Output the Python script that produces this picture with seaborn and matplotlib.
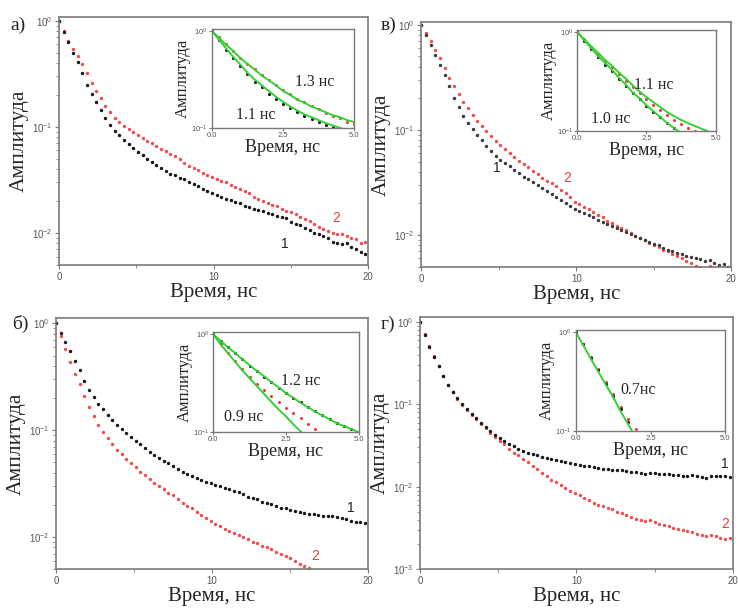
import matplotlib
matplotlib.use("Agg")
import matplotlib.pyplot as plt
import seaborn as sns
from matplotlib.ticker import NullFormatter

sns.set_style("ticks")
plt.rcParams['font.family'] = ['Liberation Serif', 'DejaVu Serif']
plt.rcParams['mathtext.default'] = 'regular'

# sampling times of the decay curves, ns
time_ns = [0.0, 0.3, 0.6, 0.9, 1.2, 1.5, 1.8, 2.1, 2.4, 2.7, 3.0, 3.3, 3.6, 3.9,
           4.2, 4.5, 4.8, 5.1, 5.4, 5.7, 6.0, 6.3, 6.6, 6.9, 7.2, 7.5, 7.8, 8.1,
           8.4, 8.7, 9.0, 9.3, 9.6, 9.9, 10.2, 10.5, 10.8, 11.1, 11.4, 11.7, 12.0,
           12.3, 12.6, 12.9, 13.2, 13.5, 13.8, 14.1, 14.4, 14.7, 15.0, 15.3, 15.6,
           15.9, 16.2, 16.5, 16.8, 17.1, 17.4, 17.7, 18.0, 18.3, 18.6, 18.9, 19.2,
           19.5, 19.8]

# panel а)
a_curve1 = [1.00, 0.79, 0.63, 0.50, 0.41, 0.32, 0.25, 0.205, 0.17, 0.143, 0.122, 0.104,
            0.092, 0.083, 0.076, 0.069, 0.063, 0.058, 0.054, 0.050, 0.047, 0.044, 0.041,
            0.038, 0.036, 0.035, 0.033, 0.032, 0.030, 0.029, 0.0275, 0.026, 0.025, 0.024,
            0.023, 0.022, 0.021, 0.0203, 0.0195, 0.019, 0.018, 0.0175, 0.017, 0.0165,
            0.016, 0.0155, 0.015, 0.0145, 0.0142, 0.0138, 0.0128, 0.0122, 0.0118, 0.0112,
            0.0106, 0.0101, 0.0097, 0.0093, 0.0090, 0.0083, 0.0081, 0.0078, 0.0080,
            0.0074, 0.0070, 0.0066, 0.0064]
a_curve2 = [1.00, 0.80, 0.65, 0.54, 0.46, 0.39, 0.32, 0.26, 0.22, 0.185, 0.158, 0.138,
            0.122, 0.110, 0.102, 0.096, 0.090, 0.084, 0.079, 0.074, 0.070, 0.066, 0.062,
            0.059, 0.056, 0.053, 0.050, 0.046, 0.043, 0.041, 0.039, 0.037, 0.035, 0.034,
            0.0325, 0.031, 0.030, 0.0285, 0.027, 0.026, 0.025, 0.024, 0.022, 0.021,
            0.0200, 0.0192, 0.0185, 0.0178, 0.0170, 0.0163, 0.0157, 0.0150, 0.0143,
            0.0136, 0.0130, 0.0122, 0.0114, 0.0110, 0.0104, 0.0100, 0.0098, 0.0097,
            0.0094, 0.0090, 0.0087, 0.0080, 0.0082]

# panel в)
v_curve1 = [1.00, 0.80, 0.64, 0.51, 0.41, 0.33, 0.26, 0.20, 0.165, 0.137, 0.116, 0.101,
            0.090, 0.080, 0.071, 0.063, 0.057, 0.052, 0.048, 0.045, 0.042, 0.039, 0.036,
            0.034, 0.032, 0.030, 0.028, 0.026, 0.0245, 0.023, 0.0215, 0.0202, 0.019,
            0.0178, 0.0170, 0.0163, 0.0155, 0.0148, 0.0140, 0.0133, 0.0127, 0.0122,
            0.0117, 0.0112, 0.0107, 0.0103, 0.0098, 0.0094, 0.0090, 0.0087, 0.0083,
            0.0080, 0.0076, 0.0072, 0.0070, 0.0068, 0.0066, 0.0064, 0.0062, 0.0061,
            0.0059, 0.0057, 0.0058, 0.0054, 0.0052, 0.0053, 0.0050]
v_curve2 = [1.00, 0.84, 0.70, 0.58, 0.48, 0.39, 0.31, 0.26, 0.22, 0.185, 0.160, 0.140,
            0.122, 0.108, 0.097, 0.088, 0.079, 0.072, 0.066, 0.060, 0.055, 0.051, 0.047,
            0.044, 0.041, 0.038, 0.035, 0.033, 0.031, 0.029, 0.027, 0.025, 0.023, 0.0205,
            0.0196, 0.0186, 0.0177, 0.0166, 0.0157, 0.0149, 0.0137, 0.0130, 0.0123,
            0.0117, 0.0111, 0.0105, 0.0098, 0.0093, 0.0089, 0.0085, 0.0080, 0.0077,
            0.0073, 0.0070, 0.0066, 0.0063, 0.0060, 0.0057, 0.0054, 0.0051, 0.0050,
            0.0047, 0.0051, 0.0046, 0.0044, 0.0042, 0.0040]

# panel б)
b_curve1 = [1.00, 0.81, 0.67, 0.55, 0.45, 0.37, 0.29, 0.24, 0.205, 0.178, 0.157, 0.140,
            0.125, 0.112, 0.102, 0.094, 0.087, 0.080, 0.074, 0.068, 0.063, 0.059, 0.055,
            0.052, 0.049, 0.046, 0.043, 0.041, 0.039, 0.0375, 0.036, 0.0345, 0.033,
            0.032, 0.031, 0.030, 0.029, 0.028, 0.0272, 0.0262, 0.0252, 0.0235, 0.0232,
            0.0228, 0.0214, 0.0208, 0.0203, 0.0196, 0.0188, 0.0185, 0.0180, 0.0175,
            0.0170, 0.0167, 0.0163, 0.0165, 0.0160, 0.0158, 0.0156, 0.0157, 0.0153,
            0.0150, 0.0146, 0.0142, 0.0137, 0.0138, 0.0135]
b_curve2 = [1.00, 0.76, 0.58, 0.44, 0.34, 0.27, 0.21, 0.165, 0.135, 0.113, 0.096, 0.084,
            0.074, 0.066, 0.060, 0.054, 0.049, 0.045, 0.041, 0.038, 0.035, 0.032, 0.030,
            0.028, 0.026, 0.0245, 0.0225, 0.021, 0.0196, 0.0185, 0.0172, 0.0160, 0.0150,
            0.0140, 0.0132, 0.0126, 0.0120, 0.0114, 0.0108, 0.0104, 0.0100, 0.0095,
            0.0090, 0.0087, 0.0083, 0.0080, 0.0077, 0.0072, 0.0070, 0.0066, 0.0064,
            0.0060, 0.0056, 0.0054, 0.0051, 0.0048, 0.0046, 0.0044, 0.0042, 0.0040,
            0.0038, 0.0037, 0.0035, 0.0034, 0.0033, 0.0032, 0.0031]

# panel г)
g_curve1 = [1.00, 0.70, 0.50, 0.38, 0.29, 0.22, 0.17, 0.14, 0.118, 0.100, 0.087, 0.077,
            0.068, 0.060, 0.053, 0.047, 0.042, 0.039, 0.036, 0.033, 0.031, 0.029, 0.0275,
            0.026, 0.0252, 0.0242, 0.0233, 0.0222, 0.0215, 0.0210, 0.0204, 0.0199,
            0.0194, 0.0190, 0.0186, 0.0180, 0.0177, 0.0172, 0.0170, 0.0166, 0.0163,
            0.0160, 0.0158, 0.0161, 0.0155, 0.0152, 0.0150, 0.0148, 0.0142, 0.0145,
            0.0146, 0.0143, 0.0144, 0.0141, 0.0138, 0.0140, 0.0137, 0.0136, 0.0138,
            0.0135, 0.0133, 0.0128, 0.0135, 0.0136, 0.0134, 0.0135, 0.0133]
g_curve2 = [1.00, 0.71, 0.51, 0.39, 0.29, 0.22, 0.17, 0.14, 0.117, 0.099, 0.086, 0.075,
            0.066, 0.058, 0.051, 0.045, 0.040, 0.036, 0.033, 0.029, 0.026, 0.024, 0.022,
            0.020, 0.0180, 0.0164, 0.0148, 0.0135, 0.0122, 0.0113, 0.0105, 0.0097,
            0.0090, 0.0084, 0.0079, 0.0074, 0.0069, 0.0064, 0.0060, 0.0058, 0.0055,
            0.0053, 0.0050, 0.0048, 0.0046, 0.0043, 0.0041, 0.0039, 0.0038, 0.0040,
            0.0037, 0.0035, 0.0034, 0.0033, 0.0032, 0.0031, 0.0030, 0.0029, 0.0028,
            0.0027, 0.0026, 0.0025, 0.0026, 0.0025, 0.0024, 0.0023, 0.0024]

# insets: early part of the decay with fitted curves
inset_time = [0.0, 0.25, 0.5, 0.75, 1.0, 1.25, 1.5, 1.75, 2.0, 2.25, 2.5, 2.75, 3.0,
              3.25, 3.5, 3.75, 4.0, 4.25, 4.5, 4.75, 5.0]

a_fit1 = [1.0, 0.81, 0.66, 0.54, 0.45, 0.37, 0.316, 0.275, 0.24, 0.209, 0.186, 0.166,
          0.151, 0.138, 0.129, 0.120, 0.112, 0.106, 0.100, 0.095, 0.091]
a_fit2 = [1.0, 0.85, 0.72, 0.62, 0.525, 0.457, 0.40, 0.347, 0.309, 0.275, 0.24, 0.219,
          0.195, 0.182, 0.166, 0.155, 0.145, 0.135, 0.129, 0.120, 0.115]
a_dots1 = [1.0, 0.80, 0.64, 0.52, 0.43, 0.36, 0.30, 0.265, 0.225, 0.20, 0.178, 0.160,
           0.146, 0.134, 0.124, 0.116, 0.108, 0.102, 0.097, 0.093, 0.089]
a_dots2 = [1.0, 0.86, 0.73, 0.62, 0.53, 0.46, 0.40, 0.35, 0.31, 0.275, 0.245, 0.222,
           0.200, 0.183, 0.168, 0.155, 0.143, 0.133, 0.125, 0.116, 0.110]

v_fit1 = [1.0, 0.83, 0.69, 0.575, 0.49, 0.417, 0.347, 0.295, 0.245, 0.214, 0.182, 0.158,
          0.138, 0.120, 0.107, 0.095, 0.085, 0.078, 0.071, 0.065, 0.059]
v_fit2 = [1.0, 0.85, 0.72, 0.62, 0.525, 0.457, 0.39, 0.34, 0.29, 0.25, 0.22, 0.195,
          0.174, 0.155, 0.141, 0.129, 0.120, 0.112, 0.105, 0.098, 0.093]
v_dots1 = [1.0, 0.82, 0.67, 0.56, 0.47, 0.40, 0.335, 0.285, 0.24, 0.21, 0.18, 0.157,
           0.138, 0.121, 0.107, 0.095, 0.085, 0.078, 0.071, 0.065, 0.059]
v_dots2 = [1.0, 0.85, 0.71, 0.60, 0.51, 0.44, 0.375, 0.32, 0.28, 0.24, 0.21, 0.185,
           0.163, 0.145, 0.130, 0.118, 0.107, 0.099, 0.093, 0.088, 0.083]

b_fit1 = [1.0, 0.86, 0.74, 0.645, 0.556, 0.484, 0.422, 0.372, 0.324, 0.285, 0.251, 0.224,
          0.200, 0.180, 0.162, 0.148, 0.135, 0.123, 0.115, 0.107, 0.100]
b_fit2 = [1.0, 0.79, 0.645, 0.525, 0.427, 0.355, 0.295, 0.245, 0.204, 0.170, 0.145,
          0.120, 0.102, 0.087, 0.075, 0.065, 0.056, 0.049, 0.043, 0.037, 0.032]
b_dots1 = [1.0, 0.86, 0.74, 0.64, 0.555, 0.48, 0.42, 0.37, 0.325, 0.285, 0.252, 0.225,
           0.201, 0.181, 0.163, 0.149, 0.136, 0.125, 0.116, 0.108, 0.101]
b_dots2 = [1.0, 0.80, 0.65, 0.54, 0.44, 0.37, 0.31, 0.27, 0.235, 0.205, 0.178, 0.156,
           0.138, 0.122, 0.108, 0.098, 0.088, 0.080, 0.073, 0.067, 0.061]

g_fit = [1.0, 0.74, 0.54, 0.40, 0.295, 0.22, 0.158, 0.117, 0.087, 0.065, 0.048, 0.036,
         0.027, 0.020, 0.015, 0.011, 0.008, 0.006, 0.0045, 0.0033, 0.0025]
g_dots1 = [1.0, 0.75, 0.55, 0.41, 0.30, 0.225, 0.165, 0.122, 0.093, 0.070, 0.053, 0.040,
           0.030, 0.023, 0.017, 0.013, 0.010, 0.008, 0.006, 0.005, 0.004]
g_dots2 = [1.0, 0.76, 0.56, 0.42, 0.31, 0.235, 0.175, 0.132, 0.105, 0.092, 0.070, 0.052,
           0.040, 0.030, 0.023, 0.017, 0.013, 0.010, 0.008, 0.006, 0.005]

panel_labels = ['а)', 'в)', 'б)', 'г)']
fit_labels = [('1.1 нс', '1.3 нс'), ('1.0 нс', '1.1 нс'), ('0.9 нс', '1.2 нс'), ('0.7нс', None)]

BLACK = '#151515'
RED = '#ef3b3b'
GREEN = '#35d035'
FRAME = '#7a7a7a'
TICKC = '#555555'
SANS = ['Liberation Sans', 'DejaVu Sans']

fig = plt.figure(figsize=(7.38, 6.12), dpi=100)
fig.patch.set_facecolor('white')

main_rects = [
    [0.080, 0.567, 0.419, 0.405],
    [0.571, 0.564, 0.420, 0.400],
    [0.076, 0.070, 0.423, 0.410],
    [0.569, 0.070, 0.424, 0.412],
]
inset_rects = [
    [0.287, 0.791, 0.193, 0.162],
    [0.782, 0.786, 0.188, 0.165],
    [0.289, 0.294, 0.197, 0.163],
    [0.780, 0.296, 0.203, 0.165],
]
ylims = [(0.005, 1.08), (0.005, 1.06), (0.005, 1.12), (0.001, 1.15)]
curves = [(a_curve1, a_curve2), (v_curve1, v_curve2), (b_curve1, b_curve2), (g_curve1, g_curve2)]
black_cols = [BLACK, '#3a3a3a', BLACK, BLACK]
num_pos = [((14.6, 0.0078), (17.9, 0.0138)),
           ((4.85, 0.043), (9.4, 0.035)),
           ((18.9, 0.0187), (16.6, 0.0066)),
           ((19.5, 0.0187), (19.5, 0.0035))]
label_pos = [(0.014, 0.958), (0.516, 0.958), (0.017, 0.470), (0.516, 0.470)]

inset_dots = [(a_dots1, a_dots2), (v_dots1, v_dots2), (b_dots1, b_dots2), (g_dots1, g_dots2)]
inset_fits = [(a_fit1, a_fit2), (v_fit1, v_fit2), (b_fit2, b_fit1), (g_fit, None)]
fit_text_pos = [((1.55, 0.135), (3.6, 0.30)),
                ((1.2, 0.132), (2.75, 0.29)),
                ((1.05, 0.141), (3.0, 0.33)),
                ((2.1, 0.26), None)]


def style_frame(ax, lw):
    for sp in ax.spines.values():
        sp.set_color(FRAME)
        sp.set_linewidth(lw)


for i in range(4):
    ax = fig.add_axes(main_rects[i])
    c1, c2 = curves[i]
    ax.set_yscale('log')
    sns.scatterplot(x=time_ns, y=c2, ax=ax, color=RED, marker='o', s=6,
                    linewidth=0, alpha=0.9)
    sns.scatterplot(x=time_ns, y=c1, ax=ax, color=black_cols[i], marker='o', s=6,
                    linewidth=0)
    ax.set_xlim(0, 20)
    ax.set_ylim(*ylims[i])
    ax.set_xticks([0, 10, 20])
    ax.set_xticks([5, 15], minor=True)
    yt = [1, 0.1, 0.01] if i < 3 else [1, 0.1, 0.01, 0.001]
    ax.set_yticks(yt)
    ax.set_yticklabels(['$10^{0}$', '$10^{-1}$', '$10^{-2}$', '$10^{-3}$'][:len(yt)])
    ax.yaxis.set_minor_formatter(NullFormatter())
    ax.tick_params(which='both', direction='out', colors=FRAME, labelcolor=TICKC,
                   labelsize=7, pad=2)
    ax.tick_params(which='major', length=3)
    ax.tick_params(which='minor', length=2)
    for lab in ax.get_xticklabels() + ax.get_yticklabels():
        lab.set_family(SANS)
    style_frame(ax, 1.2)
    ax.set_xlabel('Время, нс', fontsize=15, labelpad=1)
    ax.set_ylabel('Амплитуда', fontsize=15.5, labelpad=2)
    (x1, y1), (x2, y2) = num_pos[i]
    ax.text(x1, y1, '1', color='#222222', fontsize=10, family=SANS, ha='center', va='center')
    ax.text(x2, y2, '2', color=RED, fontsize=10, family=SANS, ha='center', va='center')
    fig.text(label_pos[i][0], label_pos[i][1], panel_labels[i], fontsize=14,
             ha='left', va='center')

    # inset
    axi = fig.add_axes(inset_rects[i])
    axi.set_yscale('log')
    d1, d2 = inset_dots[i]
    sns.scatterplot(x=inset_time, y=d2, ax=axi, color=RED, marker='o', s=5, linewidth=0)
    sns.scatterplot(x=inset_time, y=d1, ax=axi, color=BLACK, marker='o', s=5, linewidth=0)
    for fit in inset_fits[i]:
        if fit is not None:
            sns.lineplot(x=inset_time, y=fit, ax=axi, color=GREEN, linewidth=1.4,
                         sort=False, estimator=None)
    axi.set_xlim(0, 5)
    axi.set_ylim(0.1, 1.05)
    axi.set_xticks([0, 2.5, 5])
    axi.set_xticklabels(['0.0', '2.5', '5.0'])
    axi.set_yticks([1, 0.1])
    axi.set_yticklabels(['$10^{0}$', '$10^{-1}$'])
    axi.yaxis.set_minor_formatter(NullFormatter())
    axi.tick_params(which='both', direction='out', colors=FRAME, labelcolor=TICKC,
                    labelsize=5.5, pad=1)
    axi.tick_params(which='major', length=2)
    axi.tick_params(which='minor', length=0)
    for lab in axi.get_xticklabels() + axi.get_yticklabels():
        lab.set_family(SANS)
    style_frame(axi, 1.0)
    axi.set_xlabel('Время, нс', fontsize=13, labelpad=0)
    axi.set_ylabel('Амплитуда', fontsize=12, labelpad=0)
    for txt, pos in zip(fit_labels[i], fit_text_pos[i]):
        if txt is not None:
            axi.text(pos[0], pos[1], txt, fontsize=11.5, ha='center', va='center')

fig.savefig('out.png', dpi=100, facecolor='white')
